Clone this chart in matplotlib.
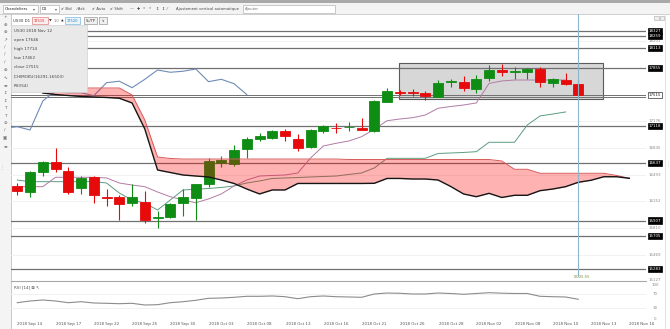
import numpy as np
import matplotlib
matplotlib.use("Agg")
import matplotlib.pyplot as plt
from matplotlib.patches import Rectangle

# ---- price data (daily US30) ----
opens = [16348, 16275, 16523, 16650, 16539, 16318, 16466, 16203, 16211, 16134,
         16147, 15945, 15948, 16134, 16198, 16369, 16645, 16629, 16816, 16948,
         16957, 17046, 16944, 16842, 17054, 17092, 17097, 17092, 17054, 17424,
         17544, 17544, 17535, 17488, 17680, 17676, 17583, 17723, 17829, 17807,
         17800, 17838, 17659, 17701, 17646]
highs = [16390, 16539, 16671, 16829, 16594, 16479, 16470, 16309, 16233, 16369,
         16284, 16028, 16134, 16305, 16375, 16701, 16731, 16871, 16977, 17021,
         17063, 17072, 17008, 17072, 17127, 17148, 17161, 17220, 17440, 17595,
         17574, 17583, 17565, 17701, 17710, 17752, 17765, 17893, 17906, 17864,
         17851, 17871, 17731, 17795, 17714]
lows = [16233, 16211, 16479, 16523, 16242, 16246, 16127, 16096, 15913, 16096,
        15879, 15807, 15935, 15965, 15913, 16331, 16587, 16603, 16701, 16922,
        16944, 16926, 16795, 16835, 17028, 17028, 17054, 17058, 17041, 17420,
        17510, 17501, 17446, 17480, 17608, 17565, 17532, 17692, 17752, 17710,
        17710, 17608, 17608, 17637, 17462]
closes = [16288, 16523, 16658, 16565, 16267, 16454, 16233, 16198, 16114, 16211,
          15913, 15952, 16118, 16203, 16369, 16671, 16676, 16807, 16948, 16986,
          17054, 16986, 16829, 17063, 17114, 17086, 17105, 17063, 17433, 17565,
          17538, 17538, 17501, 17667, 17686, 17603, 17710, 17829, 17800, 17813,
          17842, 17680, 17710, 17654, 17515]

# Ichimoku components
tenkan = [16424, 16403, 16403, 16403, 16403, 16403, 16403, 16386, 16258, 16169,
          16130, 16041, 16169, 16297, 16306, 16316, 16329, 16348, 16386, 16412,
          16444, 16450, 16456, 16463, 16469, 16475, 16495, 16514, 16578, 16701,
          16701, 16701, 16701, 16763, 16769, 16776, 16786, 16906, 16906, 16906,
          17127, 17242, 17267, 17293]
kijun = [16339, 16339, 16339, 16459, 16459, 16459, 16459, 16450, 16386, 16360,
         16339, 16271, 16211, 16169, 16134, 16182, 16246, 16348, 16424, 16475,
         16482, 16488, 16514, 16705, 16858, 16893, 16922, 16977, 17072, 17181,
         17203, 17220, 17254, 17340, 17363, 17382, 17408, 17657, 17689, 17701,
         17701, 17701, 17701, 17701]
cloud_start = 2
span_a = [17599, 17599, 17599, 17599, 17599, 17599, 17599, 17510, 17191, 16718,
          16699, 16692, 16692, 16692, 16692, 16692, 16692, 16692, 16692, 16692,
          16692, 16692, 16692, 16692, 16686, 16686, 16686, 16686, 16686, 16686,
          16686, 16686, 16686, 16686, 16686, 16686, 16667, 16561, 16561, 16510,
          16510, 16510, 16510, 16510, 16510, 16482, 16446]
span_b = [17535, 17516, 17503, 17491, 17484, 17478, 17468, 17408, 17076, 16552,
          16520, 16488, 16475, 16463, 16424, 16380, 16309, 16246, 16297, 16297,
          16380, 16380, 16380, 16380, 16380, 16380, 16382, 16444, 16444, 16437,
          16437, 16424, 16341, 16246, 16211, 16254, 16201, 16229, 16229, 16288,
          16309, 16339, 16395, 16421, 16466, 16466, 16446]
chikou_shift = 26

rsi = [44.5, 49.3, 52.1, 49.3, 44.5, 47.3, 43.7, 42.8, 41.7, 42.8,
       38.0, 38.9, 44.5, 47.3, 51.3, 56.9, 57.7, 59.7, 62.5, 62.5,
       63.4, 61.4, 55.8, 61.4, 63.4, 61.4, 60.6, 59.7, 69.0, 71.8,
       71.0, 69.0, 69.0, 71.8, 70.4, 68.2, 70.4, 72.7, 71.3, 70.4,
       70.4, 62.5, 61.4, 60.6, 54.1]

date_labels = ["2018 Sep 14", "2018 Sep 17", "2018 Sep 22", "2018 Sep 25",
               "2018 Sep 30", "2018 Oct 03", "2018 Oct 08", "2018 Oct 13",
               "2018 Oct 16", "2018 Oct 21", "2018 Oct 26", "2018 Oct 28",
               "2018 Nov 02", "2018 Nov 08", "2018 Nov 10", "2018 Nov 13",
               "2018 Nov 16"]

# user-drawn price levels and axis ticks
level_lines = [18327, 18259, 18113, 17855, 17118, 16637, 15907, 15705, 15283]
current_price = 17515
price_ticks = [18201, 17176, 16835, 16493, 16152, 15810, 15469, 15127]
rsi_ticks = [100, 70, 30, 0]
box_x0, box_x1, box_lo, box_hi = 29.96, 45.9, 17455, 17915

tooltip_lines = ["US30 2018 Nov 12", "open 17646", "high 17714", "low 17462",
                 "close 17515", "ICHIMOKU(16291.16503)", "RSI(54)"]

GREEN = "#0f8c14"
RED = "#e60a0a"
FONT = ["DejaVu Sans", "Noto Sans"]

W, H = 670, 329
fig = plt.figure(figsize=(W / 100, H / 100), dpi=100)
fig.patch.set_facecolor("white")


def frac_box(x0, y0, x1, y1):
    return [x0 / W, 1 - y1 / H, (x1 - x0) / W, (y1 - y0) / H]


# background ui layer (pixel coordinates)
ui_bg = fig.add_axes([0, 0, 1, 1], zorder=0)
ui_bg.set_xlim(0, W)
ui_bg.set_ylim(H, 0)
ui_bg.axis("off")

ax = fig.add_axes(frac_box(11, 14, 646, 281), zorder=2)
rax = fig.add_axes(frac_box(11, 281, 646, 320), zorder=2, sharex=ax)
for a in (ax, rax):
    a.patch.set_alpha(0)
    for s in a.spines.values():
        s.set_visible(False)
    a.tick_params(length=0)

ui = fig.add_axes([0, 0, 1, 1], zorder=5)
ui.set_xlim(0, W)
ui.set_ylim(H, 0)
ui.axis("off")
ui.patch.set_alpha(0)

# ---- price panel ----
n = len(opens)
idx = np.arange(n)
o = np.array(opens, float)
c = np.array(closes, float)
hi = np.array(highs, float)
lo = np.array(lows, float)

ax.set_xlim(-0.494, 49.31)
ax.set_ylim(15134.5, 18544)
ax.set_yticks([])
ax.tick_params(labelbottom=False)

ax.hlines(price_ticks, -1, 60, color="#efefef", lw=0.6, zorder=0)
ax.add_patch(Rectangle((box_x0, box_lo), box_x1 - box_x0, box_hi - box_lo,
                       facecolor="#d7d7d7", edgecolor="#5a5a5a", lw=0.8, zorder=1))
ax.hlines(level_lines, -1, 60, color="#707070", lw=0.9, zorder=2)
ax.hlines([current_price, current_price - 25], -1, 60, color="#707070", lw=0.7, zorder=2)

# Ichimoku lines
ax.plot(np.arange(len(tenkan)), tenkan, color="#5c9c80", lw=0.7, zorder=2.5)
ax.plot(np.arange(len(kijun)), kijun, color="#b07ca6", lw=0.7, zorder=2.5)
chik = closes[chikou_shift - 1:]
ax.plot(np.arange(-1, len(chik) - 1), chik, color="#6f8cb6", lw=0.8, zorder=2.5)

# candles
up = c >= o
cols = np.where(up, GREEN, RED)
ax.vlines(idx, lo, hi, colors=cols, lw=0.8, zorder=3)
ax.bar(idx, np.abs(c - o), width=0.78, bottom=np.minimum(o, c),
       color=cols, edgecolor=cols, linewidth=0.6, zorder=4)

# cloud
cx = np.arange(cloud_start, cloud_start + len(span_a))
ax.fill_between(cx, span_a, span_b, color="#ff0000", alpha=0.3, lw=0, zorder=5)
ax.plot(cx, span_a, color="#d85a5a", lw=0.7, zorder=6)
ax.plot(cx, span_b, color="#151515", lw=1.0, zorder=6)

# cursor line
ax.axvline(n - 1, ymin=0.02, ymax=1, color="#8ab6cc", lw=0.8, zorder=7)

# right-side price labels
ytr = ax.get_yaxis_transform()
for v in price_ticks:
    ax.text(1.0145, v, str(v), transform=ytr, ha="center",
            va="bottom" if v == price_ticks[-1] else "center",
            fontsize=2.9, color="#8a8a8a", family=FONT, clip_on=False)
for v in level_lines:
    ax.text(1.0145, v, str(v), transform=ytr, ha="center", va="center",
            fontsize=2.9, color="white", family=FONT, clip_on=False, zorder=8,
            bbox=dict(boxstyle="square,pad=0.25", fc="black", ec="black", lw=0.5))
ax.text(1.0145, current_price, str(current_price), transform=ytr, ha="center",
        va="center", fontsize=2.9, color="#222", family=FONT, clip_on=False, zorder=8,
        bbox=dict(boxstyle="square,pad=0.25", fc="white", ec="#333", lw=0.5))

# ---- RSI panel ----
rax.set_ylim(-4.2, 105.6)
rax.hlines([70, 30], -1, 60, color="#efefef", lw=0.6, zorder=0)
rax.plot(idx, rsi, color="#8c8c8c", lw=0.8, zorder=2)
rax.set_yticks([])
rax.set_xticks(np.arange(1, 1 + 3 * len(date_labels), 3))
rax.set_xticklabels(date_labels, fontsize=2.9, color="#555555", family=FONT)
rax.tick_params(axis="x", pad=1.2, length=0)
ryt = rax.get_yaxis_transform()
for v in rsi_ticks:
    rax.text(1.0145, v, str(v), transform=ryt, ha="center",
             va="top" if v == rsi_ticks[0] else "center",
             fontsize=2.9, color="#8a8a8a", family=FONT, clip_on=False)
rax.text(0.004, 88, "RSI [14] \u22a0 \u2196", transform=ryt, fontsize=3.0,
         color="#555555", va="center", family=FONT)

# ---- interface chrome ----
ui_bg.add_patch(Rectangle((0, 0), W, 3, fc="#a9a9a9", ec="none"))
ui_bg.add_patch(Rectangle((0, 3), W, 11, fc="#f3f3f3", ec="none"))
ui_bg.plot([0, W], [14, 14], color="#c8c8c8", lw=0.6)
ui_bg.add_patch(Rectangle((0, 14), 10.5, H - 14, fc="#f4f4f4", ec="none"))
ui_bg.plot([10.8, 10.8], [14, H], color="#c0c0c0", lw=0.6)
ui_bg.plot([11, 646], [281, 281], color="#a8a8a8", lw=0.8)
ui_bg.plot([665, 665], [14, H], color="#dddddd", lw=0.6)
ui_bg.plot([11, 665], [H - 0.5, H - 0.5], color="#dddddd", lw=0.6)

# toolbar controls
tb_y = 8.6
ui.add_patch(Rectangle((3, 4.5), 35, 8, fc="white", ec="#b5b5b5", lw=0.5))
ui.text(5, tb_y, "Chandeliers", fontsize=2.8, va="center", color="#222", family=FONT)
ui.text(33, tb_y, "\u25be", fontsize=2.8, va="center", color="#555", family=FONT)
ui.add_patch(Rectangle((40, 4.5), 19, 8, fc="white", ec="#b5b5b5", lw=0.5))
ui.text(42, tb_y, "D1", fontsize=2.8, va="center", color="#222", family=FONT)
ui.text(55, tb_y, "\u25be", fontsize=2.8, va="center", color="#555", family=FONT)
toolbar_items = [(61, "\u2714 Bid"), (77, "\u2044 Ask"), (92, "\u2714 Auto"),
                 (110, "\u2714 Shift"), (130, "\u2014"), (137, "\u271a"),
                 (143, "\u00ab"), (149, "\u00bb"), (155, "\u21d5"), (161, "\u21d5"),
                 (167, "\u2044"), (176, "Ajustement vertical automatique")]
for x, t in toolbar_items:
    ui.text(x, tb_y, t, fontsize=2.7, va="center", color="#444", family=FONT)
ui.add_patch(Rectangle((243, 4.5), 92, 8, fc="white", ec="#b5b5b5", lw=0.5))
ui.text(245, tb_y, "Ajouter", fontsize=2.7, va="center", color="#777", family=FONT)
ui.add_patch(Rectangle((654, 15.5), 4.5, 4.5, fc="#eeeeee", ec="#aaaaaa", lw=0.4))
ui.add_patch(Rectangle((659.5, 15.5), 4.5, 4.5, fc="#eeeeee", ec="#aaaaaa", lw=0.4))

# order row
ui.text(13, 20.5, "US30 D1", fontsize=2.8, va="center", color="#333", family=FONT)
ui.add_patch(Rectangle((31.5, 17), 16, 7, fc="#fdeeee", ec="#e08080", lw=0.5))
ui.text(39.5, 20.5, "17515", fontsize=2.6, va="center", ha="center", color="#d02020", family=FONT)
ui.text(49, 20.5, "\u25bc", fontsize=2.5, va="center", color="#333", family=FONT)
ui.text(53.5, 20.5, "1.0", fontsize=2.6, va="center", color="#777", family=FONT)
ui.text(61, 20.5, "\u25b2", fontsize=2.5, va="center", color="#333", family=FONT)
ui.add_patch(Rectangle((65, 17), 15, 7, fc="#eaf4fb", ec="#80b8e0", lw=0.5))
ui.text(72.5, 20.5, "17520", fontsize=2.6, va="center", ha="center", color="#2a7ab8", family=FONT)
ui.add_patch(Rectangle((84, 17), 13, 7, fc="#f0f0f0", ec="#999", lw=0.5))
ui.text(90.5, 20.5, "SL/TP", fontsize=2.6, va="center", ha="center", color="#333", family=FONT)
ui.add_patch(Rectangle((99, 17), 8, 7, fc="#f0f0f0", ec="#999", lw=0.5))
ui.text(103, 20.5, "\u2228", fontsize=2.6, va="center", ha="center", color="#333", family=FONT)

# left drawing tools
tool_glyphs = ["+", "\u2295", "\u2295", "\u2197", "\u2215", "\u2215", "\u2215", "\u2295",
               "\u223f", "\u2261", "\u2195", "\u2195", "T", "T", "\u2298", "\u2215",
               "\u25a3", "\u2261"]
for k, g in enumerate(tool_glyphs):
    ui.text(5, 17 + 7.6 * k, g, fontsize=3.2, ha="center", va="center",
            color="#666666", family=FONT)
ui.text(2, 168, "\u22ee", fontsize=3.5, ha="center", va="center", color="#aaaaaa", family=FONT)
ui.text(668, 165, "\u22ee", fontsize=3.5, ha="center", va="center", color="#aaaaaa", family=FONT)

# info tooltip
ui.add_patch(Rectangle((11, 25), 76, 67, fc="#e9e9e9", ec="#d2d2d2", lw=0.5))
for k, line in enumerate(tooltip_lines):
    ui.text(14, 30.5 + 9.2 * k, line, fontsize=3.0, va="center", color="#444",
            family=FONT)

# cursor time stamp
ui.text(582, 277, "06:25:55", fontsize=2.6, ha="center", va="center",
        color="#7a8a3a", family=FONT)

fig.savefig("out.png", dpi=100, facecolor="white")
